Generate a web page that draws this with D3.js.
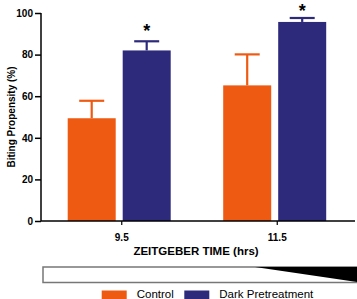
<!DOCTYPE html>
<html>
<head>
<meta charset="utf-8">
<script src="https://cdn.jsdelivr.net/npm/d3@7"></script>
<style>
  body { margin: 0; background: #fff; }
  svg { font-family: "Liberation Sans", Arial, sans-serif; }
</style>
</head>
<body>
<div id="chart"></div>
<script>
// data
const times = ["9.5", "11.5"];
const groups = ["Control", "Dark Pretreatment"];
const control_mean = [49.4, 65.2];
const control_err = [57.8, 80.1];   // top of error bar
const dark_mean = [82.0, 95.7];
const dark_err = [86.4, 97.6];
const significant = [true, true];   // asterisk over dark bar
const y_ticks = [0, 20, 40, 60, 80, 100];

const colors = {"Control": "#ee5a12", "Dark Pretreatment": "#2d2a7c"};
const W = 357, H = 299;

const svg = d3.select('#chart').append('svg')
    .attr('width', W).attr('height', H);

const yScale = d3.scaleLinear().domain([0, 100]).range([221, 13]);
const xScale = d3.scaleBand().domain(times).range([44, 355]);
const xSub = d3.scaleBand().domain(groups).range([23.7, 126.7]).paddingInner(0.127);

// table of bars
let bars = [];
times.forEach(function(t, i) {
    bars.push({time: t, group: "Control", v: control_mean[i], e: control_err[i], star: false});
    bars.push({time: t, group: "Dark Pretreatment", v: dark_mean[i], e: dark_err[i], star: significant[i]});
});

// error bars (behind)
const err = svg.selectAll('.err').data(bars).enter().append('g').attr('class', 'err');
err.append('line')
    .attr('x1', d => xScale(d.time) + xSub(d.group) + xSub.bandwidth() / 2)
    .attr('x2', d => xScale(d.time) + xSub(d.group) + xSub.bandwidth() / 2)
    .attr('y1', d => yScale(d.v))
    .attr('y2', d => yScale(d.e))
    .attr('stroke', d => colors[d.group]).attr('stroke-width', 2.2);
err.append('line')
    .attr('x1', d => xScale(d.time) + xSub(d.group) + xSub.bandwidth() / 2 - 12.5)
    .attr('x2', d => xScale(d.time) + xSub(d.group) + xSub.bandwidth() / 2 + 12.5)
    .attr('y1', d => yScale(d.e))
    .attr('y2', d => yScale(d.e))
    .attr('stroke', d => colors[d.group]).attr('stroke-width', 2.2);

svg.selectAll('.bar').data(bars).enter().append('rect')
    .attr('class', 'bar')
    .attr('x', d => xScale(d.time) + xSub(d.group))
    .attr('y', d => yScale(d.v))
    .attr('width', xSub.bandwidth())
    .attr('height', d => yScale(0) - yScale(d.v))
    .attr('fill', d => colors[d.group]);

svg.selectAll('.star').data(bars.filter(d => d.star)).enter().append('text')
    .attr('class', 'star')
    .attr('x', d => xScale(d.time) + xSub(d.group) + xSub.bandwidth() / 2)
    .attr('y', d => Math.max(yScale(d.e) - 4, 17))
    .attr('text-anchor', 'middle')
    .style('font-size', '18px').style('font-weight', 'bold')
    .text('*');

// axes
const yAxis = svg.append('g')
    .attr('transform', 'translate(41,0)')
    .call(d3.axisLeft(yScale).tickValues(y_ticks).tickSize(6).tickPadding(2));
yAxis.selectAll('text').style('font-size', '10px').style('font-weight', 'bold').attr('fill', '#000');
yAxis.selectAll('line').attr('stroke', '#000').attr('stroke-width', 1.5);
yAxis.select('.domain').attr('stroke', '#000').attr('stroke-width', 1.5).attr('d', 'M0,13V221');

const xAxis = svg.append('g')
    .attr('transform', 'translate(0,221)')
    .call(d3.axisBottom(xScale).tickSize(4).tickPadding(9));
xAxis.selectAll('text').style('font-size', '10px').style('font-weight', 'bold').attr('fill', '#000');
xAxis.selectAll('line').attr('stroke', '#000').attr('stroke-width', 1.2);
xAxis.select('.domain').attr('stroke', '#000').attr('stroke-width', 1.5).attr('d', 'M41,0H355');

svg.append('text')
    .attr('transform', 'translate(15,117) rotate(-90)')
    .attr('text-anchor', 'middle')
    .style('font-size', '10px').style('font-weight', 'bold')
    .text('Biting Propensity (%)');

svg.append('text')
    .attr('x', 196).attr('y', 255)
    .attr('text-anchor', 'middle')
    .style('font-size', '11.5px').style('font-weight', 'bold')
    .text('ZEITGEBER TIME (hrs)');

// light/dark wedge bar
svg.append('rect')
    .attr('x', 43).attr('y', 267).attr('width', 320).attr('height', 15.5)
    .attr('fill', '#fff').attr('stroke', '#777').attr('stroke-width', 1.5);
svg.append('path')
    .attr('d', 'M255,267L357,267L357,282Z')
    .attr('fill', '#000');

// legend
const legend = svg.selectAll('.legend').data(groups).enter().append('g')
    .attr('class', 'legend')
    .attr('transform', (d, i) => 'translate(' + [101.7, 184.3][i] + ',290.5)');
legend.append('rect')
    .attr('width', 25).attr('height', 10)
    .attr('fill', d => colors[d]);
legend.append('text')
    .attr('x', 35).attr('y', 7.5)
    .style('font-size', '11.5px')
    .text(d => d);
</script>
</body>
</html>
